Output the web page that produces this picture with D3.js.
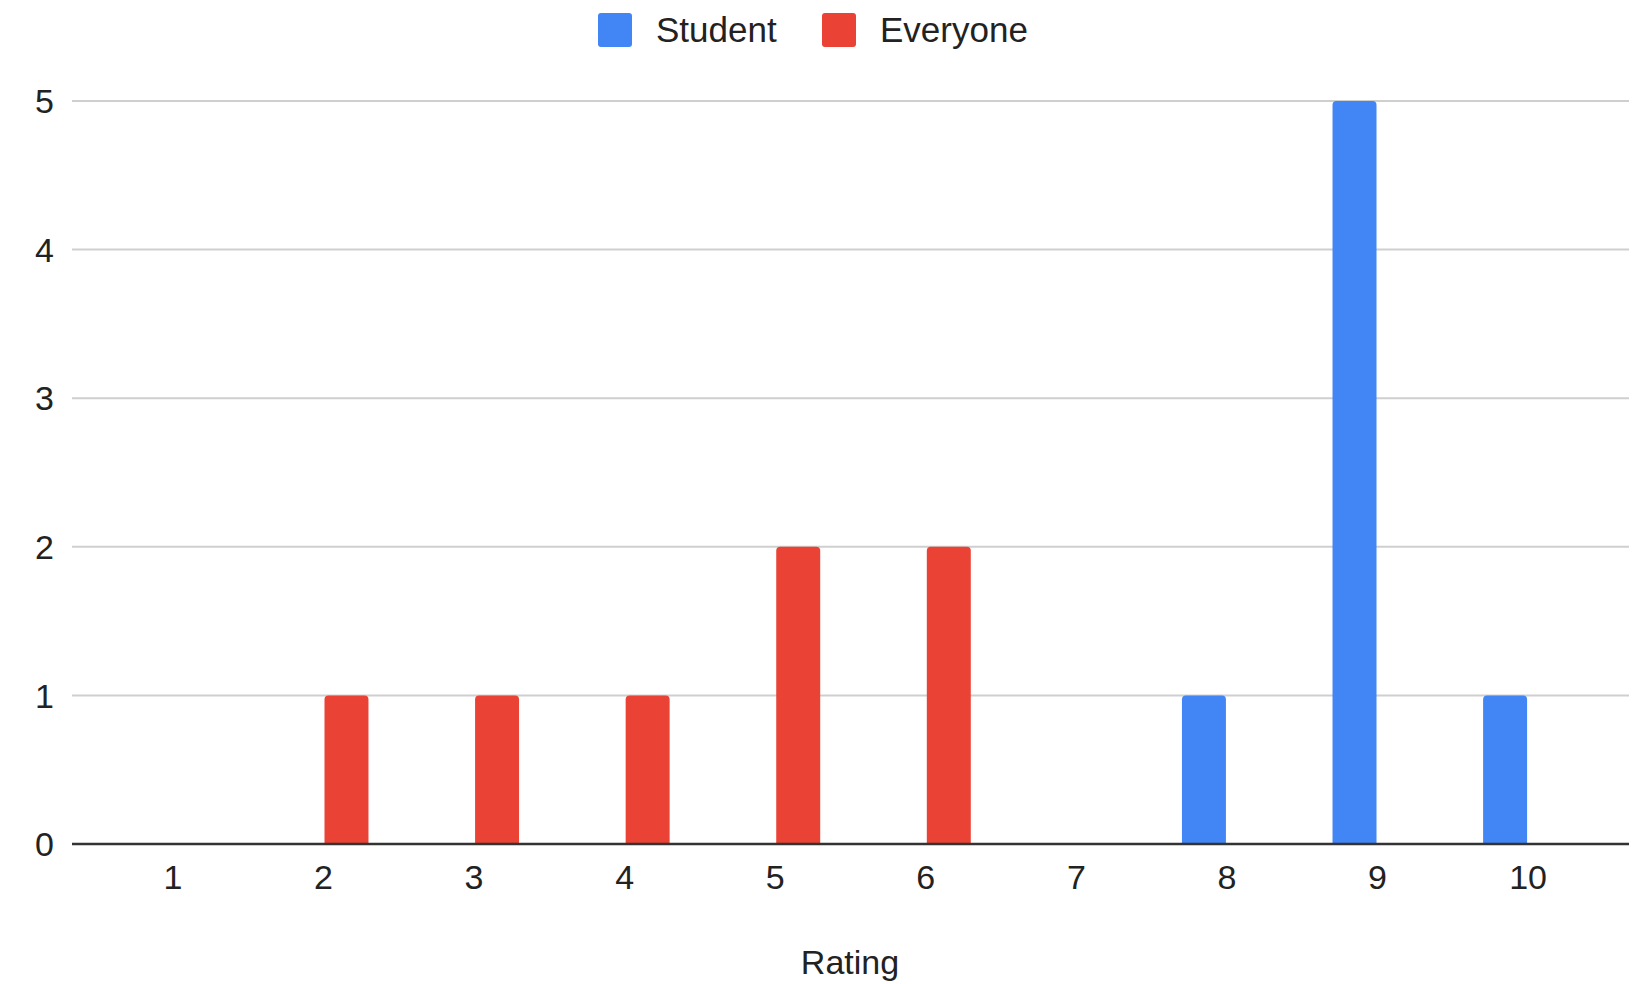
<!DOCTYPE html>
<html>
<head>
<meta charset="utf-8">
<script src="https://cdn.jsdelivr.net/npm/d3@7"></script>
<style>
  html, body { margin: 0; padding: 0; background: #fff; }
  svg { display: block; font-family: "Liberation Sans", Arial, sans-serif; }
</style>
</head>
<body>
<svg id="chart" width="1641" height="984"></svg>
<script>
// Ratings 1–10 and how many responses each group gave
const ratings = [1, 2, 3, 4, 5, 6, 7, 8, 9, 10];
const seriesNames = ["Student", "Everyone"];
const studentCounts = [0, 0, 0, 0, 0, 0, 0, 1, 5, 1];
const everyoneCounts = [0, 1, 1, 1, 2, 2, 0, 0, 0, 0];
const yTicks = [0, 1, 2, 3, 4, 5];
const colors = ["#4285F4", "#EA4335"];
const xTitle = "Rating";

const svg = d3.select("#chart");
const plot = { left: 72, right: 1629, top: 101, bottom: 844 };

// Rating axis is continuous with two-thirds of a step of padding on each end
const x = d3.scaleLinear()
  .domain([ratings[0] - 0.67, ratings[ratings.length - 1] + 0.67])
  .range([plot.left, plot.right]);
const y = d3.scaleLinear()
  .domain([0, d3.max(yTicks)])
  .range([plot.bottom, plot.top]);

// Two side-by-side bars per rating with a small gap between them
const barW = 43, gap = 2;
const xSeries = d3.scaleBand().domain(seriesNames)
  .range([-(barW + gap), barW + gap])
  .paddingInner(2 * gap / (2 * barW + 2 * gap));

const textColor = "#222";
const fontSize = 34;

// Horizontal gridlines
svg.append("g")
  .selectAll("line")
  .data(yTicks.filter(d => d !== 0))
  .join("line")
  .attr("x1", plot.left).attr("x2", plot.right)
  .attr("y1", d => y(d)).attr("y2", d => y(d))
  .attr("stroke", "#cfcfcf").attr("stroke-width", 2);

// Y tick labels
svg.append("g")
  .selectAll("text")
  .data(yTicks)
  .join("text")
  .attr("x", 54)
  .attr("y", d => y(d))
  .attr("dy", "0.36em")
  .attr("text-anchor", "end")
  .attr("font-size", fontSize)
  .attr("fill", textColor)
  .text(d => d);

// Bars
const rows = ratings.map((r, i) => ({ rating: r, values: [studentCounts[i], everyoneCounts[i]] }));
const r = 4;
function topRounded(x0, y0, w, h) {
  if (h <= 0) return "";
  const rr = Math.min(r, h, w / 2);
  return `M${x0},${y0 + h}V${y0 + rr}Q${x0},${y0} ${x0 + rr},${y0}` +
         `H${x0 + w - rr}Q${x0 + w},${y0} ${x0 + w},${y0 + rr}V${y0 + h}Z`;
}
svg.append("g")
  .selectAll("g")
  .data(rows)
  .join("g")
  .selectAll("path")
  .data(d => d.values.map((v, k) => ({ rating: d.rating, v, k })))
  .join("path")
  .attr("fill", d => colors[d.k])
  .attr("d", d => {
    const x0 = x(d.rating) + xSeries(seriesNames[d.k]);
    return topRounded(x0, y(d.v), xSeries.bandwidth(), y(0) - y(d.v));
  });

// Baseline
svg.append("line")
  .attr("x1", plot.left).attr("x2", plot.right)
  .attr("y1", y(0)).attr("y2", y(0))
  .attr("stroke", "#333").attr("stroke-width", 2.5);

// X tick labels
svg.append("g")
  .selectAll("text")
  .data(ratings)
  .join("text")
  .attr("x", d => x(d))
  .attr("y", 889)
  .attr("text-anchor", "middle")
  .attr("font-size", fontSize)
  .attr("fill", textColor)
  .text(d => d);

// Axis title
svg.append("text")
  .attr("x", 850)
  .attr("y", 974)
  .attr("text-anchor", "middle")
  .attr("font-size", fontSize)
  .attr("fill", textColor)
  .text(xTitle);

// Legend
const legendX = [598, 822];
const legend = svg.append("g")
  .selectAll("g")
  .data(seriesNames)
  .join("g")
  .attr("transform", (d, i) => `translate(${legendX[i]},13)`);
legend.append("rect")
  .attr("width", 34).attr("height", 34)
  .attr("rx", 3).attr("ry", 3)
  .attr("fill", (d, i) => colors[i]);
legend.append("text")
  .attr("x", 58)
  .attr("y", 16)
  .attr("dy", "0.36em")
  .attr("font-size", 35)
  .attr("fill", textColor)
  .text(d => d);
</script>
</body>
</html>
